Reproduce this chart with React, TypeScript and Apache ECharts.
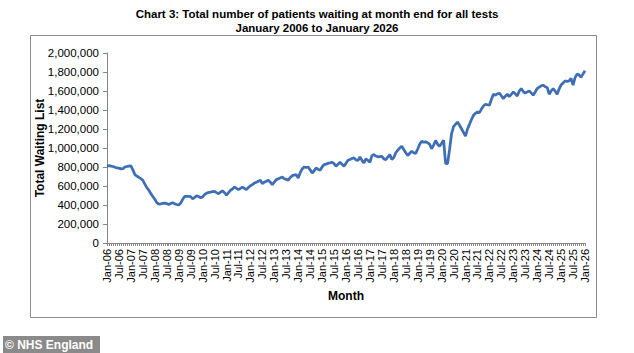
import React, { useEffect, useRef } from "react";
import * as echarts from "echarts";

const titleText = "Chart 3: Total number of patients waiting at month end for all tests";
const subtitleText = "January 2006 to January 2026";
const yAxisName = "Total Waiting List";
const xAxisName = "Month";
const creditText = "\u00A9 NHS England";

const monthNames = ["Jan", "Feb", "Mar", "Apr", "May", "Jun", "Jul", "Aug", "Sep", "Oct", "Nov", "Dec"];
const firstYear = 2006;
const lastYear = 2026;

const yMin = 0;
const yMax = 2000000;
const yInterval = 200000;

// Total waiting list at month end, thousands (Jan-06 .. Jan-26)
const waitingListThousands = [
  // 2006
  810, 815, 810, 805, 798, 790, 788, 780, 782, 800, 805, 810,
  // 2007
  812, 770, 720, 705, 690, 677, 660, 620, 582, 555, 520, 490,
  // 2008
  460, 425, 408, 412, 418, 420, 415, 405, 415, 425, 412, 405,
  // 2009
  400, 420, 460, 490, 492, 490, 488, 465, 480, 497, 490, 476,
  // 2010
  485, 510, 525, 532, 535, 540, 543, 530, 518, 535, 550, 530,
  // 2011
  505, 530, 555, 568, 589, 575, 561, 575, 589, 575, 561, 585,
  // 2012
  603, 615, 631, 640, 650, 660, 625, 640, 650, 660, 640, 614,
  // 2013
  640, 667, 675, 685, 695, 677, 670, 660, 690, 709, 715, 720,
  // 2014
  685, 740, 780, 800, 795, 800, 770, 737, 760, 790, 775, 765,
  // 2015
  800, 825, 830, 840, 843, 850, 835, 808, 830, 850, 830, 808,
  // 2016
  840, 871, 880, 890, 896, 875, 868, 907, 870, 843, 886, 870,
  // 2017
  850, 920, 931, 915, 907, 910, 913, 885, 878, 905, 931, 878,
  // 2018
  900, 950, 977, 1000, 1019, 984, 950, 921, 945, 966, 950, 942,
  // 2019
  990, 1040, 1072, 1061, 1065, 1055, 1040, 992, 1030, 1079, 1040, 1019,
  // 2020
  1050, 1083, 838, 836, 984, 1150, 1224, 1250, 1273, 1240, 1203, 1165,
  // 2021
  1125, 1200, 1249, 1300, 1344, 1365, 1379, 1372, 1410, 1442, 1460, 1455,
  // 2022
  1450, 1510, 1566, 1556, 1570, 1577, 1550, 1520, 1545, 1566, 1542, 1565,
  // 2023
  1590, 1570, 1548, 1600, 1626, 1595, 1577, 1590, 1601, 1580, 1556, 1590,
  // 2024
  1626, 1640, 1655, 1661, 1645, 1637, 1566, 1600, 1626, 1600, 1566, 1620,
  // 2025
  1665, 1683, 1707, 1700, 1707, 1732, 1661, 1740, 1778, 1770, 1743, 1780,
  // 2026
  1813,
];

const categories: string[] = [];
for (let y = firstYear; y <= lastYear; y++) {
  for (let m = 0; m < 12; m++) {
    if (categories.length >= waitingListThousands.length) break;
    categories.push(`${monthNames[m]}-${String(y % 100).padStart(2, "0")}`);
  }
}

const FONT = "'Liberation Sans', Arial, sans-serif";
const NARROW = "'Liberation Sans Narrow', 'Arial Narrow', 'Liberation Sans', Arial, sans-serif";
const AXIS_GREY = "#868686";

export default function App() {
  const ref = useRef<HTMLDivElement>(null);

  useEffect(() => {
    if (!ref.current) return;
    const chart = echarts.init(ref.current, undefined, { renderer: "svg" });
    chart.setOption({
      animation: false,
      backgroundColor: "#ffffff",
      title: {
        text: titleText + "\n" + subtitleText,
        left: "center",
        top: 2,
        textStyle: {
          fontFamily: NARROW,
          fontWeight: "bold",
          fontSize: 11.5,
          lineHeight: 14,
          color: "#000",
        },
      },
      grid: { left: 107, right: 49, top: 53, bottom: 110, containLabel: false },
      xAxis: {
        type: "category",
        data: categories,
        boundaryGap: false,
        axisLine: { lineStyle: { color: AXIS_GREY, width: 1 } },
        axisTick: { show: true, interval: 0, length: 3, lineStyle: { color: AXIS_GREY } },
        axisLabel: {
          interval: 5,
          rotate: 90,
          fontFamily: FONT,
          fontSize: 11,
          color: "#000",
          margin: 6,
        },
        splitLine: { show: false },
        name: xAxisName,
        nameLocation: "middle",
        nameGap: 47,
        nameMoveOverlap: false,
        nameTextStyle: { fontFamily: FONT, fontWeight: "bold", fontSize: 12, color: "#000" },
      },
      yAxis: {
        type: "value",
        min: yMin,
        max: yMax,
        interval: yInterval,
        axisLine: { show: true, lineStyle: { color: AXIS_GREY, width: 1 } },
        axisTick: { show: true, length: 4, lineStyle: { color: AXIS_GREY } },
        splitLine: { show: false },
        axisLabel: {
          fontFamily: FONT,
          fontSize: 11.5,
          color: "#000",
          margin: 8,
          formatter: (v: number) => v.toLocaleString("en-US"),
        },
        name: yAxisName,
        nameLocation: "middle",
        nameGap: 61,
        nameRotate: 90,
        nameMoveOverlap: false,
        nameTextStyle: { fontFamily: FONT, fontWeight: "bold", fontSize: 12, color: "#000" },
      },
      series: [
        {
          type: "line",
          data: waitingListThousands.map((v) => v * 1000),
          showSymbol: false,
          symbol: "none",
          lineStyle: { color: "#3e6eb4", width: 2.75 },
          itemStyle: { color: "#3e6eb4" },
        },
      ],
      graphic: [
        {
          type: "rect",
          silent: true,
          z: -1,
          shape: { x: 30.5, y: 35.5, width: 566, height: 282 },
          style: { fill: "none", stroke: "#8c8c8c", lineWidth: 1 },
        },
        {
          type: "rect",
          silent: true,
          shape: { x: 3, y: 336, width: 97, height: 17 },
          style: { fill: "#8a8a8a" },
        },
        {
          type: "text",
          silent: true,
          x: 5,
          y: 344.5,
          style: {
            text: creditText,
            fill: "#ffffff",
            font: `bold 12px ${NARROW}`,
            verticalAlign: "middle",
            align: "left",
          },
        },
      ],
    });
    return () => chart.dispose();
  }, []);

  return (
    <div
      ref={ref}
      style={{ position: "fixed", left: 0, top: 0, width: 634, height: 353, background: "#fff" }}
    />
  );
}
